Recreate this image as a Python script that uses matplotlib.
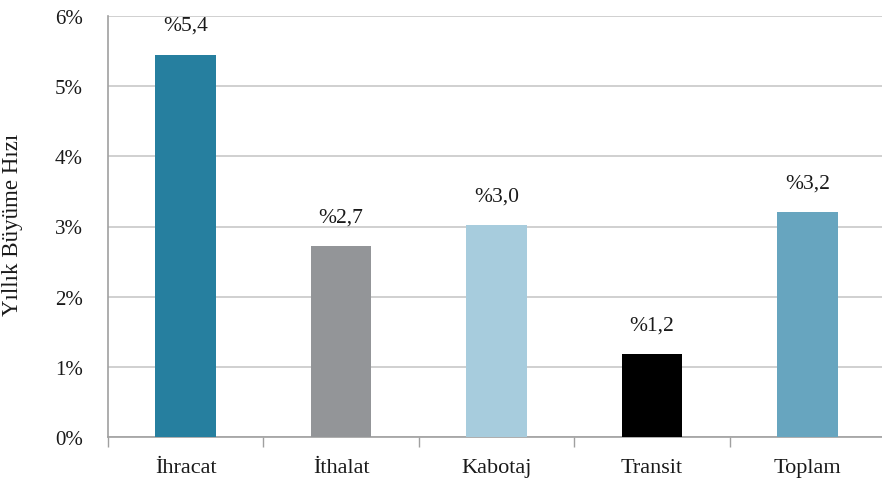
import matplotlib
matplotlib.use("Agg")
import matplotlib.pyplot as plt
from matplotlib.ticker import FuncFormatter, FixedLocator

categories = ["İhracat", "İthalat", "Kabotaj", "Transit", "Toplam"]
values = [5.45, 2.72, 3.02, 1.18, 3.20]
labels = ["%5,4", "%2,7", "%3,0", "%1,2", "%3,2"]
colors = ["#267F9F", "#939598", "#A7CCDD", "#000000", "#67A5BF"]
yticks = [0, 1, 2, 3, 4, 5, 6]

plt.rcParams['font.family'] = ['Liberation Serif', 'DejaVu Serif']

fig = plt.figure(figsize=(8.82, 4.85), dpi=100)
ax = fig.add_axes([108/882, 1-438/485, 1-108/882, (438-17)/485])

x = list(range(len(categories)))
ax.bar(x, values, width=0.39, color=colors, zorder=3)

for xi, v, lab in zip(x, values, labels):
    ax.annotate(lab, (xi, v), xytext=(0, 21), textcoords='offset points',
                ha='center', va='center', fontsize=15.5, color='#1a1a1a')

ax.set_xlim(-0.5, 4.48)
ax.set_ylim(0, 6)
ax.set_yticks(yticks)
ax.yaxis.set_major_formatter(FuncFormatter(lambda v, p: f"{int(v)}%"))
ax.grid(axis='y', color='#C8C8C8', linewidth=1.2, zorder=0)
ax.tick_params(axis='y', length=0, labelsize=15, pad=18, colors='#1a1a1a')

ax.set_xticks(x)
ax.set_xticklabels(categories)
ax.tick_params(axis='x', which='major', length=0, labelsize=16, pad=15, colors='#1a1a1a')
ax.xaxis.set_minor_locator(FixedLocator([i - 0.5 for i in range(len(categories))]))
ax.tick_params(axis='x', which='minor', length=7, width=1, color='#A0A0A0', direction='out')

for s in ['top', 'right']:
    ax.spines[s].set_visible(False)
ax.spines['left'].set_color('#A0A0A0')
ax.spines['bottom'].set_color('#A0A0A0')
ax.spines['left'].set_linewidth(1.2)
ax.spines['bottom'].set_linewidth(1.2)

ax.set_ylabel("Yıllık Büyüme Hızı", fontsize=16.5, color='#1a1a1a')
ax.yaxis.set_label_coords(-0.110, 0.506)

fig.savefig("out.png", dpi=100)
